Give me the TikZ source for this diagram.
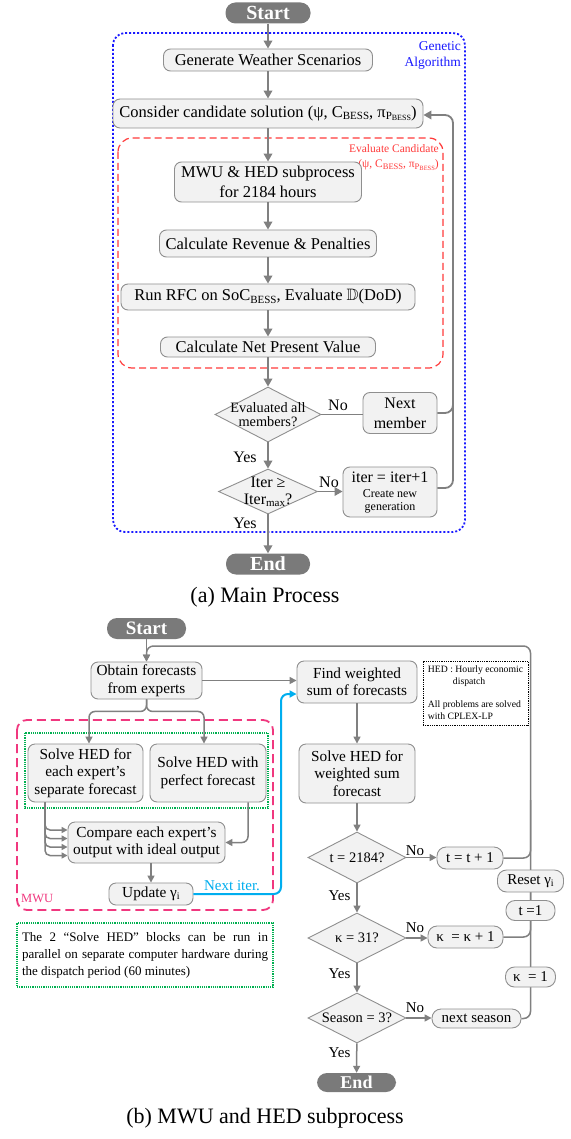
\documentclass[tikz,border=0pt]{standalone}
\usepackage{amssymb}
\usepackage{fontspec}
\setmainfont{Liberation Serif}
\usetikzlibrary{shapes.geometric,arrows.meta,calc}
\definecolor{boxfill}{HTML}{F2F2F2}
\definecolor{boxline}{HTML}{8F8F8F}
\definecolor{arrgray}{HTML}{808080}
\definecolor{termfill}{HTML}{7A7A7A}
\definecolor{gablue}{HTML}{1A1AFF}
\definecolor{evred}{HTML}{FF3B3B}
\definecolor{mwupink}{HTML}{F0387F}
\definecolor{notegreen}{HTML}{00B050}
\definecolor{itercyan}{HTML}{00AEEF}
\newcommand{\fs}[2]{\fontsize{#1}{#2}\selectfont}
\newcommand{\lowsub}[2]{\raisebox{-0.28ex}{\fontsize{#1}{#1}\selectfont #2}}
\tikzset{
 box/.style={draw=boxline, fill=boxfill, line width=0.9pt, rounded corners=7pt, inner sep=0pt, align=center},
 pill/.style={box, rounded corners=9pt},
 term/.style={fill=termfill, rounded corners=10pt, inner sep=0pt, text=white},
 dia/.style={shape=diamond, draw=boxline, fill=boxfill, line width=0.9pt, inner sep=0pt},
 dtext/.style={inner sep=0pt, align=center},
 flowA/.style={draw=arrgray, line width=1.8pt, -{Triangle[length=8pt,width=8.5pt]}},
 lineA/.style={draw=arrgray, line width=1.8pt},
 flowB/.style={draw=arrgray, line width=1.5pt, -{Triangle[length=7pt,width=7pt]}},
 lineB/.style={draw=arrgray, line width=1.5pt},
 lbl/.style={inner sep=0pt},
}
\begin{document}
\begin{tikzpicture}[x=1pt,y=-1pt]
\fill[white] (0,0) rectangle (570,1139);
\useasboundingbox (0,0) rectangle (570,1139);

% ================= (a) Main process =================
\draw[gablue, line width=1.8pt, dash pattern=on 2pt off 2pt, rounded corners=12pt] (113,33) rectangle (465,532);
\draw[evred, line width=1.2pt, dash pattern=on 7pt off 4pt, rounded corners=14pt] (118,138) rectangle (443,368);

\node[lbl, anchor=east, align=right, text=gablue, font=\fs{13.5}{16}] (galbl) at (461,55) {Genetic\\Algorithm};
\node[lbl, anchor=east, align=right, text=evred, font=\fs{11.5}{15}] (evlbl) at (439,157.5) {Evaluate Candidate\\(ψ, C\lowsub{8.5}{BESS}, π\lowsub{8.5}{P\lowsub{6.5}{BESS}})};

\node[term, minimum width=85pt, minimum height=21pt, font=\fs{20}{20}\bfseries] (startA) at (268,13) {Start};
\node[box, minimum width=209pt, minimum height=22pt, font=\fs{16.5}{19}] (gen) at (268,60) {Generate Weather Scenarios};
\node[box, minimum width=310pt, minimum height=29pt, font=\fs{16.5}{19}] (cons) at (268,113.5) {Consider candidate solution (ψ, C\lowsub{11}{BESS}, π\lowsub{11}{P\lowsub{8}{BESS}})};
\node[box, minimum width=187pt, minimum height=40pt, font=\fs{16.5}{19.5}] (mwuA) at (268,182) {MWU \& HED subprocess\\for 2184 hours};
\node[box, minimum width=217pt, minimum height=27pt, font=\fs{16.5}{19}] (rev) at (268,243.5) {Calculate Revenue \& Penalties};
\node[box, minimum width=294pt, minimum height=26pt, font=\fs{16.5}{19}] (rfc) at (268,297) {Run RFC on SoC\lowsub{11}{BESS}, Evaluate $\mathbb{D}$(DoD)};
\node[box, minimum width=215pt, minimum height=20pt, font=\fs{16.5}{19}] (npv) at (268,347) {Calculate Net Present Value};

\node[dia, minimum width=106pt, minimum height=55pt] (d1) at (268,414.5) {};
\node[dtext, font=\fs{14.3}{14.5}] (d1t) at (d1) {Evaluated all\\members?};
\node[box, minimum width=74pt, minimum height=41pt, font=\fs{16}{20}] (next) at (400,413) {Next\\member};

\node[dia, minimum width=99pt, minimum height=45pt] (d2) at (268,491.5) {};
\node[dtext, font=\fs{16}{17}] (d2t) at (d2) {Iter ≥\\Iter\lowsub{11}{max}?};
\node[box, minimum width=94pt, minimum height=50pt, font=\fs{12}{12.5}] (iter) at (390,492) {{\fs{16}{18}iter = iter+1}\\[3pt]Create new\\generation};

\node[term, minimum width=84pt, minimum height=21pt, font=\fs{20}{20}\bfseries] (endA) at (268,564) {End};

\draw[flowA] (startA) -- (gen);
\draw[flowA] (gen) -- (cons);
\draw[flowA] (cons) -- (mwuA);
\draw[flowA] (mwuA) -- (rev);
\draw[flowA] (rev) -- (rfc);
\draw[flowA] (rfc) -- (npv);
\draw[flowA] (npv) -- (d1);
\draw[flowA] (d1) -- (d2);
\draw[flowA] (d2) -- (endA);
\draw[lineA] (d1.east) -- (d1.east -| next.west);
\draw[flowA] (d2.east) -- (d2.east -| iter.west);
\coordinate (rj) at (453,115);
\coordinate (rjm) at (453,300);
\draw[flowA, rounded corners=8pt] ($(iter.east)+(0,-4)$) -| (rj) -- (rj -| cons.east);
\draw[lineA, rounded corners=8pt] (next.east) -| (rjm);

\node[lbl, font=\fs{16}{16}] (noA1) at (338,405) {No};
\node[lbl, font=\fs{16}{16}] (noA2) at (329,482) {No};
\node[lbl, font=\fs{16}{16}] (yesA1) at (245,457) {Yes};
\node[lbl, font=\fs{16}{16}] (yesA2) at (245,523) {Yes};

\node[lbl, font=\fs{22}{22}] (capA) at (265,597) {(a) Main Process};

% ================= (b) MWU and HED subprocess =================
\draw[mwupink, line width=1.8pt, dash pattern=on 9pt off 5pt, rounded corners=10pt] (17,720) rectangle (273,910);
\draw[notegreen, line width=1.2pt, densely dotted] (25,733) rectangle (268,808);

\node[term, minimum width=79pt, minimum height=21pt, font=\fs{19}{19}\bfseries] (startB) at (146.5,628.5) {Start};
\node[box, minimum width=111pt, minimum height=37pt, font=\fs{15.3}{17.5}] (obtain) at (146.5,680.5) {Obtain forecasts\\from experts};
\node[box, minimum width=120pt, minimum height=42pt, font=\fs{15.3}{17.5}] (find) at (357,682) {Find weighted\\sum of forecasts};
\node[box, minimum width=115pt, minimum height=58pt, font=\fs{15.3}{17.5}] (solve1) at (85.5,773) {Solve HED for\\each expert’s\\separate forecast};
\node[box, minimum width=116pt, minimum height=58pt, font=\fs{15.3}{17.5}] (solve2) at (208,773) {Solve HED with\\perfect forecast};
\node[box, minimum width=157pt, minimum height=41pt, font=\fs{15.3}{17.5}] (compare) at (146.5,842.5) {Compare each expert’s\\output with ideal output};
\node[box, minimum width=84pt, minimum height=22pt, font=\fs{15.3}{17.5}] (update) at (151,894) {Update γ\lowsub{10}{i}};
\node[box, minimum width=116pt, minimum height=59pt, font=\fs{15.3}{17.5}] (solve3) at (357,773.5) {Solve HED for\\weighted sum\\forecast};

\node[draw=black, line width=0.8pt, densely dotted, minimum width=105pt, minimum height=64pt, inner sep=0pt, align=left, font=\fs{9.7}{12}] (hednote) at (475.5,693) {HED : Hourly economic\\\hspace*{25pt}dispatch\\[11pt]All problems are solved\\with CPLEX-LP};

\node[lbl, anchor=west, text=mwupink, font=\fs{12.5}{12.5}] (mwulbl) at (21,898) {MWU};
\node[lbl, text=itercyan, font=\fs{15}{15}] (nextiter) at (232,886) {Next iter.};

\node[draw=notegreen, line width=1.2pt, densely dotted, minimum width=256pt, minimum height=64pt, text width=246pt, align=justify, inner sep=0pt, font=\fs{13}{17}] (gnote) at (145,955) {The 2 “Solve HED” blocks can be run in\linebreak parallel on separate computer hardware during\linebreak the dispatch period (60 minutes)};

\node[dia, minimum width=98pt, minimum height=51pt] (d3) at (357,857.5) {};
\node[dtext, font=\fs{14.5}{15}] (d3t) at (d3) {t = 2184?};
\node[pill, minimum width=66pt, minimum height=22pt, font=\fs{15}{15}] (tt) at (470,858) {t = t + 1};
\node[dia, minimum width=98pt, minimum height=50pt] (d4) at (357,938) {};
\node[dtext, font=\fs{14.5}{15}] (d4t) at (d4) {κ = 31?};
\node[pill, minimum width=75pt, minimum height=22pt, font=\fs{15}{15}] (kk) at (465.5,937) {κ \ = κ + 1};
\node[dia, minimum width=98pt, minimum height=50pt] (d5) at (357,1018) {};
\node[dtext, font=\fs{14.5}{15}] (d5t) at (d5) {Season = 3?};
\node[pill, minimum width=89pt, minimum height=19pt, font=\fs{15}{15}] (ns) at (476.5,1018.5) {next season};
\node[term, minimum width=79pt, minimum height=19pt, font=\fs{18}{18}\bfseries] (endB) at (356.5,1082.5) {End};

% connectors (b)
\coordinate (tr) at (530.5,646);
\coordinate (vmid1) at (530.5,800);
\coordinate (vmid2) at (530.5,890);
\draw[flowB, rounded corners=7pt] (ns.east) -| (tr) -| (obtain.north);
\draw[lineB, rounded corners=7pt] (tt.east) -| (vmid1);
\draw[lineB, rounded corners=7pt] (kk.east) -| (vmid2);

\node[pill, minimum width=66pt, minimum height=22pt, font=\fs{15}{15}] (reset) at (530.5,881) {Reset γ\lowsub{10}{i}};
\node[pill, minimum width=49pt, minimum height=20pt, font=\fs{15}{15}] (t1) at (530.5,910.5) {t =1};
\node[pill, minimum width=50pt, minimum height=20pt, font=\fs{15}{15}] (k1) at (530.5,977) {κ \ = 1};

\draw[flowB] (startB) -- (obtain);
\draw[flowB] (obtain.east) -- (obtain.east -| find.west);
\draw[flowB, rounded corners=6pt] (obtain.south) -- ($(obtain.south)+(0,12)$) -| ($(solve1.north)+(3.5,0)$);
\draw[flowB, rounded corners=6pt] (obtain.south) -- ($(obtain.south)+(0,12)$) -| ($(solve2.north)+(-4,0)$);
\foreach \yy in {830,838.5,847,855.5}{
  \draw[flowB, -{Triangle[length=6pt,width=6pt]}, rounded corners=5pt] ($(solve1.south)+(-40.5,0)$) |- (compare.west |- 0,\yy);
}
\draw[flowB, rounded corners=6pt] ($(solve2.south)+(40,0)$) |- (compare.east);
\draw[flowB] (compare.south -| update.north) -- (update.north);
\coordinate (cy) at (281,694);
\draw[itercyan, line width=2pt, -{Triangle[length=7pt,width=7pt]}, rounded corners=7pt] (update.east) -| (cy) -- (cy -| find.west);

\draw[flowB] (find) -- (solve3);
\draw[flowB] (solve3) -- (d3);
\draw[flowB] (d3) -- (d4);
\draw[flowB] (d4) -- (d5);
\draw[flowB] (d5) -- (endB);
\draw[flowB] (d3.east) -- (d3.east -| tt.west);
\draw[flowB] (d4.east) -- (d4.east -| kk.west);
\draw[flowB] (d5.east) -- (d5.east -| ns.west);

\node[lbl, font=\fs{15}{15}] (noB1) at (415,851) {No};
\node[lbl, font=\fs{15}{15}] (noB2) at (415,928) {No};
\node[lbl, font=\fs{15}{15}] (noB3) at (415,1008) {No};
\node[lbl, font=\fs{15}{15}] (yesB1) at (339.5,896) {Yes};
\node[lbl, font=\fs{15}{15}] (yesB2) at (339.5,974) {Yes};
\node[lbl, font=\fs{15}{15}] (yesB3) at (339.5,1053) {Yes};

\node[lbl, font=\fs{22}{22}] (capB) at (265,1118) {(b) MWU and HED subprocess};
\end{tikzpicture}
\end{document}
